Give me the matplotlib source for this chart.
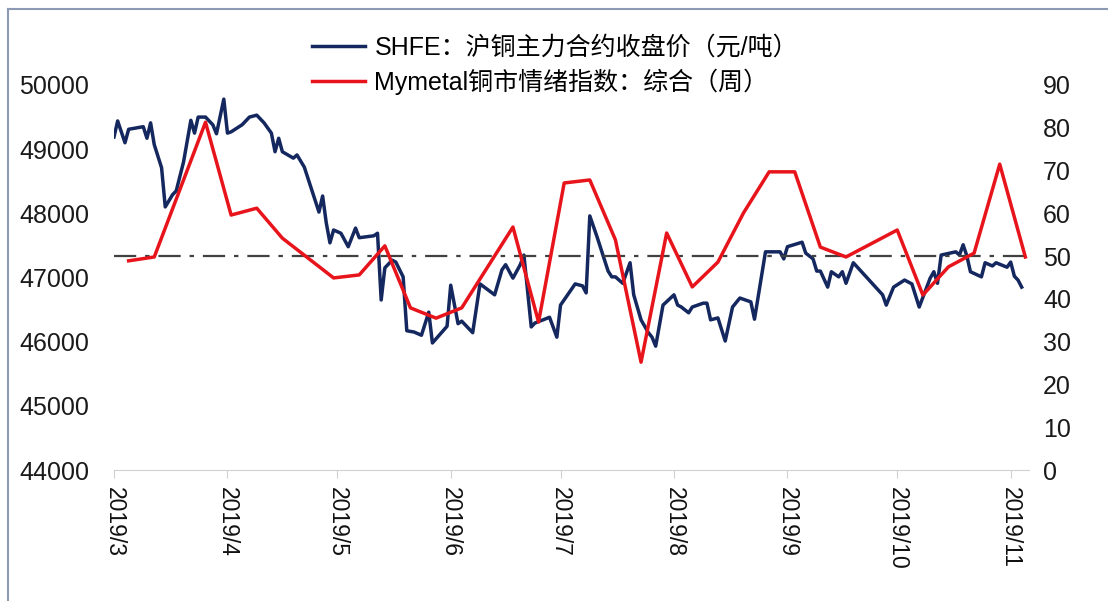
import pandas as pd
import matplotlib
matplotlib.use("Agg")
import matplotlib.pyplot as plt
from matplotlib.lines import Line2D

plt.rcParams['font.family'] = ['Liberation Sans', 'Noto Sans CJK SC']

START = pd.Timestamp("2019-03-01")

# SHFE copper main contract close, x = days after 2019-03-01
shfe_day = [0, 1, 3, 4, 6, 8, 9, 10, 11, 13, 14, 16, 17, 19, 21, 22, 23, 25, 27, 28,
            30, 31, 32, 35, 37, 39, 41, 43, 44, 45, 46, 49, 50, 52, 56, 57, 58, 59, 60, 62,
            64, 66, 67, 71, 72, 73, 74, 76, 77, 79, 80, 82, 84, 86, 87, 91, 92, 94, 95, 98,
            100, 104, 106, 107, 109, 111, 112, 114, 115, 119, 121, 122, 126, 128, 129, 130, 132, 135, 136, 137,
            139, 141, 142, 144, 146, 147, 148, 150, 153, 154, 155, 157, 158, 161, 162, 163, 165, 167, 169, 171,
            174, 175, 178, 182, 183, 184, 188, 189, 191, 192, 193, 195, 196, 198, 199, 200, 202, 210, 211, 213,
            216, 218, 220, 223, 224, 225, 226, 230, 231, 232, 233, 234, 237, 238, 240, 241, 244, 245, 246, 247,
            248]
shfe_price = [49190, 49440, 49100, 49310, 49330, 49350, 49170, 49410, 49070, 48710, 48100, 48290, 48350, 48800, 49450, 49250, 49500, 49500, 49380, 49240,
              49780, 49250, 49270, 49380, 49500, 49530, 49410, 49250, 48960, 49170, 48960, 48860, 48910, 48720, 48020, 48270, 47850, 47540, 47740, 47690,
              47480, 47770, 47620, 47650, 47690, 46650, 47150, 47270, 47240, 47010, 46170, 46150, 46100, 46460, 45980, 46240, 46880, 46280, 46320, 46140,
              46900, 46730, 47120, 47200, 46990, 47200, 47350, 46230, 46290, 46380, 46070, 46570, 46900, 46870, 46760, 47960, 47630, 47100, 47010, 47010,
              46910, 47230, 46730, 46340, 46140, 46070, 45930, 46570, 46730, 46570, 46540, 46450, 46540, 46600, 46600, 46340, 46370, 46010, 46540, 46680,
              46620, 46350, 47400, 47400, 47290, 47480, 47550, 47380, 47290, 47100, 47100, 46850, 47090, 47010, 47090, 46910, 47230, 46730, 46570, 46850,
              46960, 46900, 46540, 46990, 47090, 46910, 47350, 47400, 47350, 47510, 47340, 47090, 47010, 47230, 47180, 47230, 47160, 47240, 47020, 46960,
              46850]

# Mymetal copper sentiment index, weekly
senti_date = ["2019-03-05", "2019-03-12", "2019-03-26", "2019-04-02", "2019-04-09", "2019-04-16",
              "2019-04-30", "2019-05-07", "2019-05-14", "2019-05-21", "2019-05-28", "2019-06-04",
              "2019-06-18", "2019-06-25", "2019-07-02", "2019-07-09", "2019-07-16", "2019-07-23",
              "2019-07-30", "2019-08-06", "2019-08-13", "2019-08-20", "2019-08-27", "2019-09-03",
              "2019-09-10", "2019-09-17", "2019-10-01", "2019-10-08", "2019-10-15", "2019-10-22",
              "2019-10-29", "2019-11-05"]
senti_value = [48.9, 49.8, 81.3, 59.6, 61.2, 54.2, 44.9, 45.6, 52.4, 37.9, 35.5, 37.9,
               56.8, 34.6, 67.1, 67.8, 53.8, 25.2, 55.4, 42.8, 48.6, 60.1, 69.7, 69.7,
               52.1, 49.8, 56.1, 40.9, 47.5, 50.7, 71.5, 49.8]

month_ticks = pd.date_range("2019-03-01", "2019-11-01", freq="MS")

shfe_x = START + pd.to_timedelta(shfe_day, unit="D")
senti_x = pd.to_datetime(senti_date)

fig = plt.figure(figsize=(11.08, 6.01), dpi=100)
ax = fig.add_axes([114/1108, 1-470/601, (1029-114)/1108, (470-85)/601])
ax2 = ax.twinx()

l1, = ax.plot(shfe_x, shfe_price, color="#14285F", lw=2.5, solid_joinstyle="round")
ax2.axhline(50, color="#404040", lw=1.6, dashes=(10, 4, 2, 4))
l2, = ax2.plot(senti_x, senti_value, color="#E8141B", lw=2.5, solid_joinstyle="round")

ax.set_xlim(START, START + pd.Timedelta(days=250))
ax.set_ylim(44000, 50000)
ax.set_yticks(range(44000, 50001, 1000))
ax2.set_ylim(0, 90)
ax2.set_yticks(range(0, 91, 10))

ax.set_xticks(month_ticks)
ax.set_xticklabels([f"{d.year}/{d.month}" for d in month_ticks], rotation=270,
                   fontsize=16.5, color="#111111")

for a in (ax, ax2):
    for s in ("top", "left", "right"):
        a.spines[s].set_visible(False)
    a.spines["bottom"].set_color("#d0d0d0")
ax2.spines["bottom"].set_visible(False)

ax.tick_params(axis="x", length=6, color="#d0d0d0", pad=6)
ax.tick_params(axis="y", length=0, pad=18, labelsize=18, labelcolor="#1a1a1a")
ax2.tick_params(axis="y", length=0, pad=10, labelsize=18, labelcolor="#1a1a1a")

fig.legend([l1, l2], ["SHFE：沪铜主力合约收盘价（元/吨）", "Mymetal铜市情绪指数：综合（周）"],
           loc="upper left", bbox_to_anchor=(312/1108, 1-36/601), frameon=False,
           fontsize=18, handlelength=2.1, handletextpad=0.4, labelspacing=0.35,
           borderpad=0, borderaxespad=0)

# outer frame of the original screenshot (left and top edges)
fig.add_artist(Line2D([8/1108, 8/1108], [0, 1-9/601], transform=fig.transFigure,
                      color="#8c9ab5", lw=1.5))
fig.add_artist(Line2D([8/1108, 1], [1-9/601, 1-9/601], transform=fig.transFigure,
                      color="#8c9ab5", lw=1.5))

fig.savefig("out.png", dpi=100)
